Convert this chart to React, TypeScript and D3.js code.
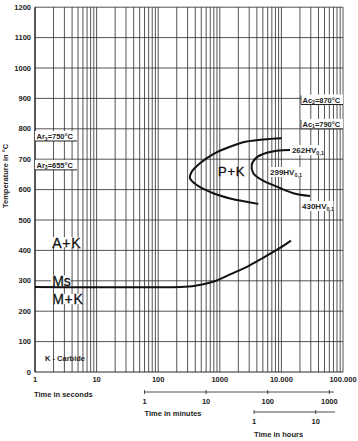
import React from "react";
import * as d3 from "d3";

// ---- data ----
const tempTicks = [0, 100, 200, 300, 400, 500, 600, 700, 800, 900, 1000, 1100, 1200];
const secondTicks = [1, 10, 100, 1000, 10000, 100000];
const secondLabels = ["1", "10", "100", "1000", "10.000", "100.000"];
const minuteTicks = [1, 10, 100, 1000];
const hourTicks = [1, 10];

// Ms line (time s, temp °C)
const msTime = [1, 230, 400, 776, 1500, 2760, 5000, 9490, 14300];
const msTemp = [280, 280, 284, 297, 322, 346, 375, 408, 432];

// outer P+K start/finish C-curve
const outerTime = [10100, 5080, 2730, 1465, 784, 477, 350, 328, 422, 784, 1465, 2730, 4220];
const outerTemp = [769, 765, 758, 741, 717, 687, 659, 637, 615, 588, 571, 560, 553];

// inner hardness curve
const innerTime = [13800, 8390, 5770, 3970, 3300, 3500, 4790, 8390, 15600, 29100];
const innerTemp = [730, 728, 721, 706, 681, 654, 632, 610, 588, 579];

// critical temperatures
const critNames = ["Ar", "Ar", "Ac", "Ac"];
const critSubs = ["3", "3", "3", "1"];
const critTemps = [750, 655, 870, 790];
const critSides = ["left", "left", "right", "right"];

// hardness labels
const hvValues = ["262", "299", "430"];
const hvTime = [14800, 6530, 21600];
const hvTemp = [730, 658, 546];

// phase labels
const phaseLabels = ["A+K", "Ms", "M+K", "P+K"];
const phaseTime = [1.9, 1.9, 1.9, 1465];
const phaseTemp = [424, 298, 237, 661];

const W = 358;
const H = 441;
const FONT = "'Liberation Sans', Arial, Helvetica, sans-serif";

export default function App() {
  const x = d3.scaleLog().domain([1, 100000]).range([35, 343]);
  const y = d3.scaleLinear().domain([0, 1200]).range([372, 7.2]);

  const minorTicks: number[] = [];
  for (let dec = 1; dec < 100000; dec *= 10) {
    for (let k = 1; k <= 9; k++) minorTicks.push(dec * k);
  }
  minorTicks.push(100000);

  const line = d3
    .line<[number, number]>()
    .x((d) => x(d[0]))
    .y((d) => y(d[1]))
    .curve(d3.curveCatmullRom.alpha(0.5));

  const msPath = line(msTime.map((t, i) => [t, msTemp[i]]));
  const outerPath = line(outerTime.map((t, i) => [t, outerTemp[i]]));
  const innerPath = line(innerTime.map((t, i) => [t, innerTemp[i]]));

  const gridColor = "#2a2a2a";
  const minY = 392;
  const hourY = 412;
  const minEnd = 1190; // minutes
  const hourEnd = 20.6; // hours

  return (
    <svg
      width={W}
      height={H}
      style={{ position: "absolute", left: 0, top: 0, background: "#fff" }}
      fontFamily={FONT}
    >
      <rect x={0} y={0} width={W} height={H} fill="#fff" />
      {/* vertical grid */}
      {minorTicks.map((t, i) => (
        <line
          key={"v" + i}
          x1={x(t)}
          x2={x(t)}
          y1={y(1200)}
          y2={y(0)}
          stroke={gridColor}
          strokeWidth={0.8}
        />
      ))}
      {/* horizontal grid */}
      {tempTicks.map((t) => (
        <line
          key={"h" + t}
          x1={x(1)}
          x2={x(100000)}
          y1={y(t)}
          y2={y(t)}
          stroke={gridColor}
          strokeWidth={t === 0 ? 1.2 : 0.8}
        />
      ))}
      <line x1={x(1)} x2={x(1)} y1={y(1200)} y2={y(0)} stroke="#222" strokeWidth={1.2} />

      {/* temperature tick labels */}
      {tempTicks.map((t) => (
        <text
          key={"tl" + t}
          x={31}
          y={y(t) + 2.5}
          textAnchor="end"
          fontSize={7.5}
          fontWeight="bold"
          fill="#222"
        >
          {t}
        </text>
      ))}
      <text
        transform={`translate(8,176) rotate(-90)`}
        textAnchor="middle"
        fontSize={7.5}
        fontWeight="bold"
        fill="#222"
      >
        Temperature in °C
      </text>

      {/* seconds axis labels */}
      {secondTicks.map((t, i) => (
        <text
          key={"s" + t}
          x={x(t)}
          y={y(0) + 10}
          textAnchor="middle"
          fontSize={7.5}
          fontWeight="bold"
          fill="#222"
        >
          {secondLabels[i]}
        </text>
      ))}
      <text x={34} y={397} fontSize={7.5} fontWeight="bold" fill="#222">
        Time in seconds
      </text>

      {/* minutes axis */}
      <line x1={x(60)} x2={x(minEnd * 60)} y1={minY} y2={minY} stroke="#222" strokeWidth={0.8} />
      {minuteTicks.map((m) => (
        <g key={"m" + m}>
          <line x1={x(m * 60)} x2={x(m * 60)} y1={minY - 2} y2={minY + 2} stroke="#222" strokeWidth={0.8} />
          <text x={x(m * 60)} y={minY + 12} textAnchor="middle" fontSize={7.5} fontWeight="bold" fill="#222">
            {m}
          </text>
        </g>
      ))}
      <text x={x(60)} y={minY + 24} fontSize={7.5} fontWeight="bold" fill="#222">
        Time in minutes
      </text>

      {/* hours axis */}
      <line x1={x(3600)} x2={x(hourEnd * 3600)} y1={hourY} y2={hourY} stroke="#222" strokeWidth={0.8} />
      {hourTicks.map((h) => (
        <g key={"hr" + h}>
          <line x1={x(h * 3600)} x2={x(h * 3600)} y1={hourY - 2} y2={hourY + 2} stroke="#222" strokeWidth={0.8} />
          <text x={x(h * 3600)} y={hourY + 12} textAnchor="middle" fontSize={7.5} fontWeight="bold" fill="#222">
            {h}
          </text>
        </g>
      ))}
      <text x={x(3600)} y={hourY + 25} fontSize={7.5} fontWeight="bold" fill="#222">
        Time in hours
      </text>

      {/* critical temperature boxes */}
      {critTemps.map((T, i) => {
        const bottom = y(T) - 3;
        const left = critSides[i] === "left" ? x(1) : x(100000) - 42;
        return (
          <g key={"c" + i}>
            <rect x={left} y={bottom - 10} width={42} height={10} fill="#fff" />
            <line x1={left} x2={left + 42} y1={bottom} y2={bottom} stroke="#222" strokeWidth={1} />
            {critSides[i] === "right" && (
              <line x1={left} x2={left} y1={bottom - 9} y2={bottom} stroke="#222" strokeWidth={0.8} />
            )}
            <text x={left + 1.5} y={bottom - 2} fontSize={7.5} fontWeight="bold" fill="#222">
              {critNames[i]}
              <tspan fontSize={5} dy={1.5}>
                {critSubs[i]}
              </tspan>
              <tspan dy={-1.5}>{`=${T}°C`}</tspan>
            </text>
          </g>
        );
      })}

      {/* phase label backgrounds (tight to glyphs) */}
      {phaseLabels.map((p, i) =>
        i === 3 ? null : (
          <rect
            key={"pb" + i}
            x={x(phaseTime[i]) - 1}
            y={y(phaseTemp[i]) - 6}
            width={p.length * 9.6}
            height={10}
            fill="#fff"
          />
        )
      )}

      {/* curves */}
      <path d={msPath || ""} fill="none" stroke="#111" strokeWidth={2} />
      <path d={outerPath || ""} fill="none" stroke="#111" strokeWidth={2} />
      <path d={innerPath || ""} fill="none" stroke="#111" strokeWidth={2} />

      {/* hardness labels */}
      {hvValues.map((v, i) => (
        <g key={"hv" + i}>
          <rect x={x(hvTime[i]) - 0.5} y={y(hvTemp[i]) - 5} width={32} height={10} fill="#fff" />
          <text x={x(hvTime[i])} y={y(hvTemp[i]) + 3} fontSize={8} fontWeight="bold" fill="#222">
            {v}HV
            <tspan fontSize={5.5} dy={2}>
              0,1
            </tspan>
          </text>
        </g>
      ))}

      {/* phase labels */}
      {phaseLabels.map((p, i) => (
        <text
          key={"p" + i}
          x={x(phaseTime[i]) + (i === 3 ? -12 : 0)}
          y={y(phaseTemp[i]) + 4.5}
          fontSize={i === 3 ? 13 : 14}
          fill="#111"
          stroke="#111"
          strokeWidth={0.3}
          letterSpacing={i === 1 ? 0 : 0.8}
        >
          {p}
        </text>
      ))}

      <text x={45} y={y(46) + 3} fontSize={7.5} fontWeight="bold" fill="#222">
        K - Carbide
      </text>
    </svg>
  );
}
